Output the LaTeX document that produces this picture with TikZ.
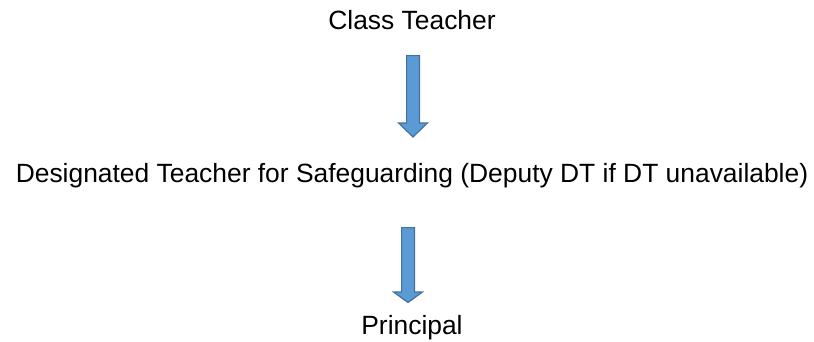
\documentclass[tikz,border=0pt]{standalone}
\usepackage{fontspec}
\setmainfont{Liberation Sans}
\usepackage{xcolor}
\usetikzlibrary{positioning}

\definecolor{arrowfill}{HTML}{5B9BD5}
\definecolor{arrowline}{HTML}{41719C}

\begin{document}
\begin{tikzpicture}[x=1pt, y=-1pt,
    level/.style={inner sep=0pt, anchor=base, font=\fontsize{26.4}{30}\selectfont},
    blockarrow/.style={fill=arrowfill, draw=arrowline, line width=1.2pt, line join=miter}]
\useasboundingbox (0,0) rectangle (814,341);

\node[level] (teacher) at (412,29) {Class Teacher};
\node[level] (dt) at (412,182) {Designated Teacher for Safeguarding (Deputy DT if DT unavailable)};
\node[level] (principal) at (412,334) {Principal};

% block arrows between the levels (top centre of each shaft)
\coordinate (arrow_1) at (413,55.6);
\coordinate (arrow_2) at (408,227.6);

\draw[blockarrow] ([shift={(-6.4,0)}]arrow_1) -- ([shift={(-6.4,67.4)}]arrow_1)
    -- ([shift={(-14.4,67.4)}]arrow_1) -- ([shift={(0,81.4)}]arrow_1)
    -- ([shift={(14.4,67.4)}]arrow_1) -- ([shift={(6.4,67.4)}]arrow_1)
    -- ([shift={(6.4,0)}]arrow_1) -- cycle;
\draw[blockarrow] ([shift={(-6.4,0)}]arrow_2) -- ([shift={(-6.4,64.4)}]arrow_2)
    -- ([shift={(-14.4,64.4)}]arrow_2) -- ([shift={(0,74.9)}]arrow_2)
    -- ([shift={(14.4,64.4)}]arrow_2) -- ([shift={(6.4,64.4)}]arrow_2)
    -- ([shift={(6.4,0)}]arrow_2) -- cycle;

\end{tikzpicture}
\end{document}
